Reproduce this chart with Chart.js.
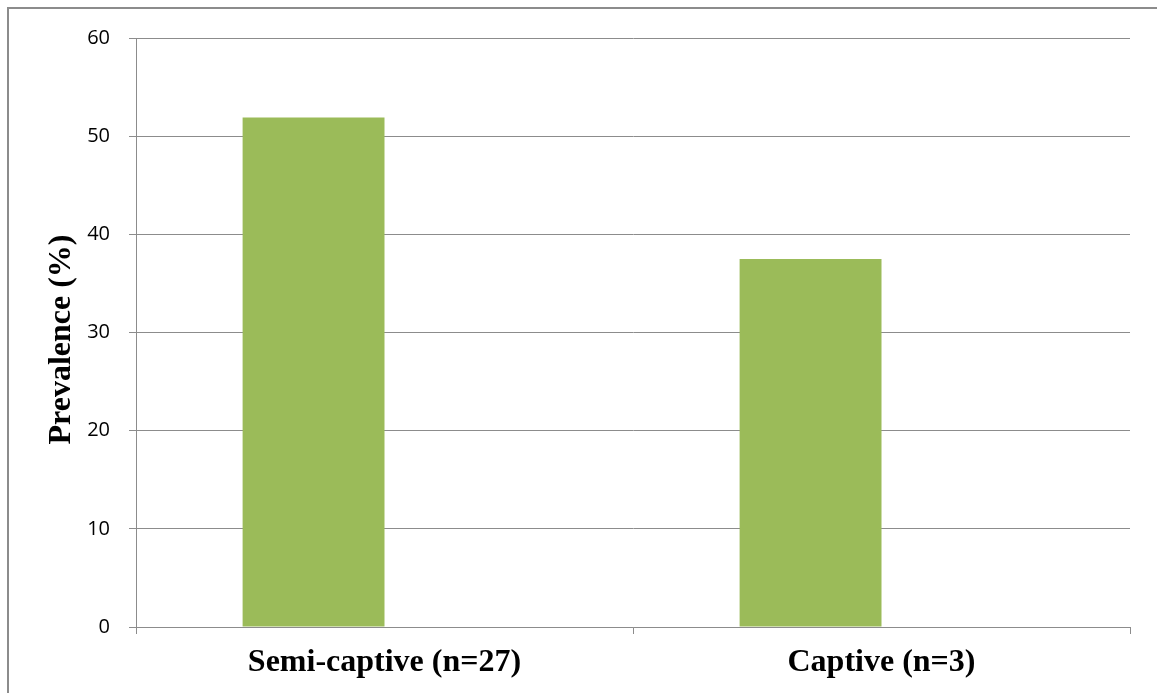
<!DOCTYPE html>
<html>
<head>
<meta charset="utf-8">
<script src="https://cdn.jsdelivr.net/npm/chart.js@4/dist/chart.umd.min.js"></script>
<style>
  html, body { margin: 0; padding: 0; background: #fff; }
  #wrap { position: relative; width: 1157px; height: 693px; overflow: hidden; }
  #frame { position: absolute; left: 7px; top: 7px; width: 1200px; height: 800px;
           border-left: 2px solid #8c8c8c; border-top: 2px solid #8c8c8c; box-sizing: border-box; }
  canvas { position: absolute; left: 0; top: 0; }
</style>
</head>
<body>
<div id="wrap">
  <div id="frame"></div>
  <canvas id="chart" width="1157" height="693"></canvas>
</div>
<script>
// Prevalence by housing type (second series left empty in the source workbook)
const categories = ['Semi-captive (n=27)', 'Captive (n=3)'];
const prevalence = [51.9, 37.5];
const emptySeries = [null, null];
const yTicks = [0, 10, 20, 30, 40, 50, 60];
const yTitle = 'Prevalence (%)';

const gridColor = '#8c8c8c';
const serif = '"Liberation Serif", "Times New Roman", serif';

// Vertical axis title, drawn slightly below the plot's vertical centre
const yTitlePlugin = {
  id: 'yTitle',
  afterDraw(chart) {
    const { ctx, chartArea } = chart;
    ctx.save();
    ctx.translate(62, (chartArea.top + chartArea.bottom) / 2 + 7);
    ctx.rotate(-Math.PI / 2);
    ctx.font = 'bold 32px ' + serif;
    ctx.fillStyle = '#000';
    ctx.textAlign = 'center';
    ctx.textBaseline = 'middle';
    ctx.fillText(yTitle, 0, 0);
    ctx.restore();
  }
};

new Chart(document.getElementById('chart'), {
  type: 'bar',
  data: {
    labels: categories,
    datasets: [
      { data: prevalence, backgroundColor: '#9bbb59', borderWidth: 0 },
      { data: emptySeries, backgroundColor: '#c0504d', borderWidth: 0 }
    ]
  },
  plugins: [yTitlePlugin],
  options: {
    responsive: false,
    animation: false,
    devicePixelRatio: 1,
    datasets: { bar: { barPercentage: 1, categoryPercentage: 0.571 } },
    layout: { padding: { left: 0, right: 27, top: 38, bottom: 0 } },
    plugins: { legend: { display: false }, tooltip: { enabled: false } },
    scales: {
      x: {
        grid: { display: true, drawOnChartArea: false, color: gridColor, lineWidth: 1, tickLength: 7, offset: true },
        border: { color: gridColor, width: 1 },
        ticks: { color: '#000', padding: 10, font: { family: serif, size: 32, weight: 'bold' } },
        afterFit: s => { s.height = 66; }
      },
      y: {
        min: 0, max: 60,
        afterBuildTicks: s => { s.ticks = yTicks.map(v => ({ value: v })); },
        grid: { color: gridColor, lineWidth: 1, tickLength: 7 },
        border: { color: gridColor, width: 1 },
        ticks: { color: '#000', padding: 19, font: { family: '"Open Sans", sans-serif', size: 20 } },
        afterFit: s => { s.width = 136; }
      }
    }
  }
});
</script>
</body>
</html>
